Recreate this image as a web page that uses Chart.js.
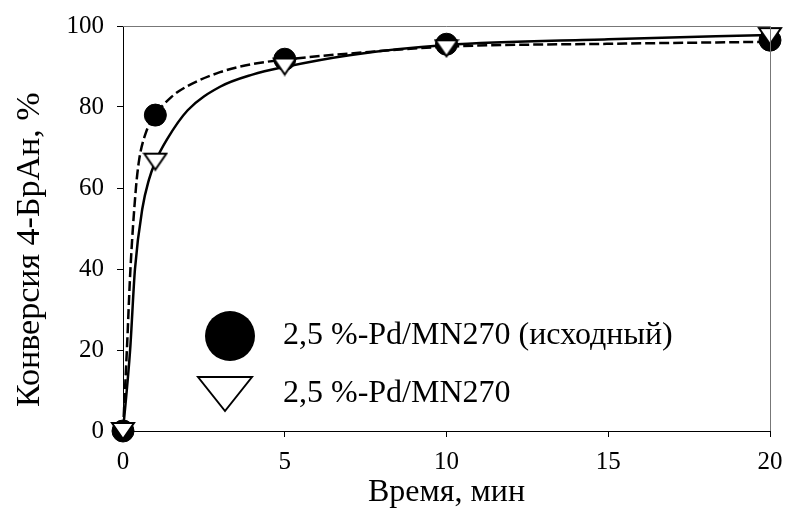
<!DOCTYPE html>
<html>
<head>
<meta charset="utf-8">
<script src="https://cdn.jsdelivr.net/npm/chart.js@4"></script>
<style>
  html, body { margin: 0; padding: 0; background: #fff; }
</style>
</head>
<body>
<canvas id="conversionChart" width="787" height="522"></canvas>
<script>
// measured points
const timeMin = [0, 1, 5, 10, 20];
const convInitial = [0, 78, 91.8, 95.5, 96.5];   // 2,5 %-Pd/MN270 (исходный)
const convCatalyst = [0, 66.5, 90, 94.5, 97.5];  // 2,5 %-Pd/MN270

// fitted curves
const fitTimeA = [0, 0.12, 0.23, 0.4, 0.5, 0.7, 1, 1.5, 2, 3, 4, 5, 7, 10, 15, 20];
const fitConvA = [0, 20, 40, 60, 67, 73.5, 78, 82.5, 85.2, 88.6, 90.6, 91.7, 93.2, 94.9, 95.6, 96.1];
const fitTimeB = [0, 0.22, 0.37, 0.6, 0.8, 1, 1.36, 2, 3, 4, 5, 7, 10, 15, 20];
const fitConvB = [0, 20, 40, 55, 62, 66.5, 72, 79.2, 85, 88, 89.9, 92.8, 95.3, 96.7, 97.8];

const labelInitial = '2,5 %-Pd/MN270 (исходный)';
const labelCatalyst = '2,5 %-Pd/MN270';

const serif = '"Liberation Serif", "Times New Roman", serif';

function toXY(xs, ys) {
  return xs.map((x, i) => ({ x: x, y: ys[i] }));
}

// flattened, upside-down triangle as a point style
function makeTriangle(w, h, lw) {
  var c = document.createElement('canvas');
  c.width = Math.ceil(w + lw * 2);
  c.height = Math.ceil(h + lw * 2);
  var g = c.getContext('2d');
  g.beginPath();
  g.moveTo(lw, lw);
  g.lineTo(lw + w, lw);
  g.lineTo(lw + w / 2, lw + h);
  g.closePath();
  g.fillStyle = '#fff';
  g.fill();
  g.lineWidth = lw;
  g.strokeStyle = '#000';
  g.stroke();
  return c;
}

const triSmall = makeTriangle(22, 16, 2);
const triBig = makeTriangle(54, 34, 2);

// grey frame on top/right + legend inside the plot
const framePlugin = {
  id: 'frameAndLegend',
  afterDraw(chart) {
    var ctx = chart.ctx;
    var a = chart.chartArea;
    ctx.save();
    ctx.strokeStyle = '#777';
    ctx.lineWidth = 1;
    ctx.beginPath();
    ctx.moveTo(a.left, a.top + 0.5);
    ctx.lineTo(a.right + 0.5, a.top + 0.5);
    ctx.lineTo(a.right + 0.5, a.bottom);
    ctx.stroke();

    // legend
    ctx.fillStyle = '#000';
    ctx.beginPath();
    ctx.arc(230, 336, 25, 0, Math.PI * 2);
    ctx.fill();
    ctx.drawImage(triBig, 225 - triBig.width / 2, 394 - triBig.height / 2);
    ctx.font = '32px ' + serif;
    ctx.textBaseline = 'middle';
    ctx.textAlign = 'left';
    ctx.fillText(labelInitial, 283, 336);
    ctx.fillText(labelCatalyst, 283, 394);
    ctx.restore();
  }
};

new Chart('conversionChart', {
  type: 'scatter',
  data: {
    datasets: [
      {
        label: 'fit A',
        data: toXY(fitTimeA, fitConvA),
        showLine: true,
        borderColor: '#000',
        borderWidth: 2.5,
        borderDash: [10, 4],
        pointRadius: 0,
        cubicInterpolationMode: 'monotone',
        clip: false,
        order: 4
      },
      {
        label: 'fit B',
        data: toXY(fitTimeB, fitConvB),
        showLine: true,
        borderColor: '#000',
        borderWidth: 2.5,
        pointRadius: 0,
        cubicInterpolationMode: 'monotone',
        clip: false,
        order: 3
      },
      {
        label: labelInitial,
        data: toXY(timeMin, convInitial),
        showLine: false,
        pointStyle: 'circle',
        pointRadius: 11,
        backgroundColor: '#000',
        borderColor: '#000',
        borderWidth: 1,
        clip: false,
        order: 2
      },
      {
        label: labelCatalyst,
        data: toXY(timeMin, convCatalyst),
        showLine: false,
        pointStyle: triSmall,
        pointRadius: 12,
        clip: false,
        order: 1
      }
    ]
  },
  options: {
    responsive: false,
    animation: false,
    devicePixelRatio: 1,
    layout: { padding: { top: 26, right: 17, bottom: 0, left: 0 } },
    plugins: {
      legend: { display: false },
      tooltip: { enabled: false }
    },
    scales: {
      x: {
        type: 'linear',
        min: 0,
        max: 20,
        ticks: { stepSize: 5, color: '#000', padding: 10, font: { family: serif, size: 25 } },
        grid: { drawOnChartArea: false, drawTicks: true, tickLength: 6, color: '#000' },
        border: { color: '#000', width: 1 },
        title: {
          display: true,
          text: 'Время, мин',
          color: '#000',
          font: { family: serif, size: 32 },
          padding: { top: 0, bottom: 10 }
        },
        afterFit: (s) => { s.height = 91; s.paddingRight = 0; s.paddingLeft = 0; }
      },
      y: {
        min: 0,
        max: 100,
        ticks: { stepSize: 20, color: '#000', padding: 13, font: { family: serif, size: 25 } },
        grid: { drawOnChartArea: false, drawTicks: true, tickLength: 6, color: '#000' },
        border: { color: '#000', width: 1 },
        title: {
          display: true,
          text: 'Конверсия 4-БрАн, %     ',
          color: '#000',
          font: { family: serif, size: 34 },
          padding: { top: 10, bottom: 0 }
        },
        afterFit: (s) => { s.width = 123; s.paddingTop = 0; s.paddingBottom = 0; }
      }
    }
  },
  plugins: [framePlugin]
});
</script>
</body>
</html>
